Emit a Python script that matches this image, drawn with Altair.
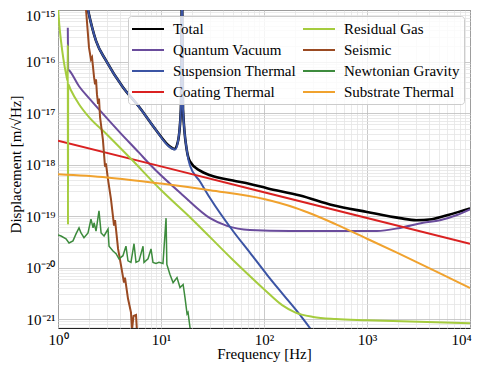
import altair as alt
import pandas as pd

# ---------------- data (frequency [Hz], displacement [m/sqrt(Hz)]) ----------------
total_f = [1.83, 1.955, 2.34, 2.92, 4.27, 6.12, 8.93, 11.95, 13.5, 14.6, 15.6, 16.0, 16.35, 17.8, 19.1,
           23.9, 30, 50, 73, 107, 224, 469, 1000, 2090, 3000, 4270, 6120, 10000]
total_d = [1.9e-15, 1.0e-15, 2.51e-16, 1.05e-16, 3.16e-17, 1.32e-17, 4.68e-18, 2.3e-18, 2.0e-18, 2.8e-18,
           1.2e-17, 3.2e-15, 1.2e-17, 1.9e-18, 1.15e-18, 7.6e-19, 6.2e-19, 4.9e-19, 4.2e-19, 3.47e-19,
           2.51e-19, 1.62e-19, 1.2e-19, 9.1e-20, 8.3e-20, 8.7e-20, 1.05e-19, 1.41e-19]

quantum_f = [1.245, 1.255, 1.28, 1.6, 2.04, 2.92, 4.0, 6.12, 7.82, 16.4, 29.9, 43.7, 73, 178, 547,
             1250, 2090, 3500, 5110, 7480, 10000]
quantum_d = [4.5e-16, 7.0e-17, 6.76e-17, 3.31e-17, 1.86e-17, 8.32e-18, 4.17e-18, 1.70e-18, 1.0e-18,
             2.51e-19, 9.12e-20, 6.46e-20, 5.37e-20, 5.13e-20, 5.13e-20, 5.13e-20, 5.89e-20, 7.41e-20,
             8.32e-20, 1.05e-19, 1.35e-19]

susp_f = [1.83, 1.955, 2.34, 2.92, 4.27, 6.12, 8.93, 11.95, 13.7, 14.6, 15.6, 16.0, 16.35, 17.9, 19.1,
          23.9, 29.9, 50, 73, 107, 153, 224, 285, 330]
susp_d = [1.9e-15, 1.0e-15, 2.51e-16, 1.05e-16, 3.16e-17, 1.32e-17, 4.68e-18, 2.24e-18, 1.95e-18, 2.75e-18,
          1.2e-17, 3.2e-15, 1.2e-17, 1.78e-18, 9.55e-19, 4.68e-19, 2.24e-19, 5.13e-20, 1.95e-20, 7.24e-21,
          3.02e-21, 1.2e-21, 6.3e-22, 4.0e-22]

coating_f = [1, 10, 100, 1000, 10000]
coating_d = [2.9e-18, 9.2e-19, 2.9e-19, 9.2e-20, 2.9e-20]

gas_f = [1.0, 1.03, 1.07, 1.13, 1.2, 1.24, 1.245, 1.25, 1.255, 1.32, 1.6, 2.0, 3.0, 5.0, 10, 20, 50,
         100, 150, 200, 300, 500, 1000, 10000]
gas_d = [1.1e-15, 5.1e-16, 2.5e-16, 1.1e-16, 5.6e-17, 4.2e-17, 2.1e-16, 6.8e-20, 3.6e-17, 2.9e-17,
         1.48e-17, 8.3e-18, 3.8e-18, 1.35e-18, 3.2e-19, 8.7e-20, 1.4e-20, 3.8e-21, 1.86e-21, 1.35e-21,
         1.1e-21, 1.0e-21, 9.5e-22, 8.3e-22]

seismic_f = [1.84, 2.0, 2.09, 2.14, 2.24, 2.29, 2.34, 2.39, 2.45, 2.5, 2.56, 2.73, 2.86, 2.92, 3.06,
             3.27, 3.5, 3.58, 3.83, 4.09, 4.37, 4.47, 4.78, 5.11, 5.23, 5.41, 5.72, 5.85]
seismic_d = [1.55e-15, 1.86e-16, 1.1e-16, 1.2e-16, 4.9e-17, 3.6e-17, 4.5e-17, 2.3e-17, 1.5e-17, 1.9e-17,
             8.3e-18, 3.0e-18, 9.1e-19, 1.05e-18, 5.1e-19, 2.1e-19, 6.5e-20, 8.3e-20, 2.3e-20, 1.1e-20,
             5.1e-21, 6.4e-21, 2.5e-21, 1.35e-21, 6.2e-22, 1.15e-21, 1.2e-21, 5.6e-22]

newton_f = [1.0, 1.07, 1.196, 1.279, 1.398, 1.496, 1.6, 1.673, 1.788, 1.956, 2.09, 2.19, 2.24, 2.34, 2.5,
            2.62, 2.80, 3.06, 3.13, 3.42, 3.66, 3.91, 4.27, 4.57, 4.78, 5.11, 5.47, 5.72, 6.12, 6.69,
            6.84, 7.48, 8.0, 8.36, 8.94, 9.56, 10.45, 11.2, 11.4, 12.2, 13.1, 14.3, 15.3, 16.4, 17.1,
            17.9, 18.3, 19.1, 19.6]
newton_d = [4.3e-20, 4.1e-20, 3.6e-20, 3.0e-20, 3.3e-20, 4.5e-20, 5.9e-20, 4.7e-20, 3.8e-20, 4.7e-20,
            8.7e-20, 5.9e-20, 7.4e-20, 5.1e-20, 1.26e-19, 4.7e-20, 4.1e-20, 5.6e-20, 2.6e-20, 2.1e-20,
            1.86e-20, 1.48e-20, 1.7e-20, 2.6e-20, 1.35e-20, 1.26e-20, 2.9e-20, 1.26e-20, 1.35e-20, 2.6e-20,
            1.26e-20, 1.48e-20, 2.3e-20, 1.26e-20, 1.2e-20, 1.26e-20, 1.2e-20, 9.1e-20, 1.15e-20, 7.4e-21,
            5.1e-21, 6.4e-21, 4.1e-21, 4.7e-21, 2.6e-21, 1.26e-21, 1.35e-21, 7.0e-22, 4.5e-22]

substrate_f = [1, 3, 10, 30, 100, 200, 300, 500, 1000, 2000, 5000, 10000]
substrate_d = [6.46e-19, 5.62e-19, 4.27e-19, 3.16e-19, 2.14e-19, 1.45e-19, 1.07e-19, 6.9e-20, 3.63e-20,
               1.9e-20, 7.9e-21, 4.0e-21]

# drawing order (first drawn = bottom); legend columns fill top-to-bottom in the same order
series = [
    ("Total", total_f, total_d, "#000000", 2.6, "monotone"),
    ("Quantum Vacuum", quantum_f, quantum_d, "#6A4C9C", 2.0, "monotone"),
    ("Suspension Thermal", susp_f, susp_d, "#3B54A4", 2.0, "monotone"),
    ("Coating Thermal", coating_f, coating_d, "#DA2121", 2.0, "linear"),
    ("Residual Gas", gas_f, gas_d, "#A5CC3E", 2.0, "monotone"),
    ("Seismic", seismic_f, seismic_d, "#9A4A22", 2.0, "linear"),
    ("Newtonian Gravity", newton_f, newton_d, "#3D8B3D", 1.5, "linear"),
    ("Substrate Thermal", substrate_f, substrate_d, "#F0A22E", 2.0, "monotone"),
]
names = [s[0] for s in series]
palette = [s[3] for s in series]

SUP = {"0": "⁰", "1": "¹", "2": "²", "3": "³", "4": "⁴", "5": "⁵", "6": "⁶",
       "7": "⁷", "8": "⁸", "9": "⁹", "-": "⁻"}


def label_expr(exps):
    parts = []
    for e in exps:
        v = 10.0 ** e
        s = "10" + "".join(SUP[c] for c in str(e))
        parts.append(f"(datum.value > {v * 0.999:.6g} && datum.value < {v * 1.001:.6g}) ? '{s}'")
    return " : ".join(parts) + " : ''"


x_vals = [m * 10.0 ** k for k in range(0, 4) for m in range(1, 10)] + [1e4]
y_lo = 6.71e-22
y_vals = [m * 10.0 ** k for k in range(-22, -15) for m in range(1, 10)] + [1e-15]
y_vals = [v for v in y_vals if v >= y_lo]

major_test = "abs(log(datum.value)/LN10 - round(log(datum.value)/LN10)) < 0.001"
grid_color = {"condition": {"test": major_test, "value": "#bdbdbd"}, "value": "#e4e4e4"}
FONT = "Liberation Serif"

x_enc = alt.X(
    "f:Q",
    scale=alt.Scale(type="log", domain=[1, 1e4], nice=False),
    axis=alt.Axis(
        values=x_vals, labelExpr=label_expr(range(0, 5)), labelOverlap=False, labelFlush=False,
        labelOffset={"condition": {"test": "datum.value > 5000", "value": -9}, "value": 0},
        labelFont=FONT, labelFontSize=15, labelColor="black", labelPadding=16,
        labelBaseline="alphabetic", ticks=False, tickSize=0, domain=False,
        grid=True, gridColor=grid_color, gridWidth=0.8,
        title="Frequency [Hz]", titleFont=FONT, titleFontSize=15, titleFontWeight="normal",
        titleColor="black", titleBaseline="alphabetic", titleY=30.5, titleX=206,
    ),
)
y_enc = alt.Y(
    "d:Q",
    scale=alt.Scale(type="log", domain=[y_lo, 1e-15], nice=False),
    axis=alt.Axis(
        values=y_vals, labelExpr=label_expr(range(-21, -14)), labelOverlap=False,
        labelFont=FONT, labelFontSize=15, labelColor="black", labelPadding=3,
        labelOffset={"condition": {"test": "datum.value > 5e-16", "value": 5}, "value": 0},
        ticks=False, tickSize=0, domain=False,
        grid=True, gridColor=grid_color, gridWidth=0.8,
        title="Displacement [m/√Hz]", titleFont=FONT, titleFontSize=15, titleFontWeight="normal",
        titleColor="black", titleX=-35, titleY=154,
    ),
)
color_enc = alt.Color(
    "series:N",
    scale=alt.Scale(domain=names, range=palette),
    legend=alt.Legend(
        title=None, orient="none", legendX=70, legendY=6, columns=2,
        symbolType="M-2,0L2,0", symbolSize=256, symbolStrokeWidth=2, symbolOffset=7,
        labelOffset=16, labelFont=FONT, labelFontSize=15, labelColor="black", labelLimit=300,
        fillColor="rgba(255,255,255,0.8)", strokeColor="#cccccc", cornerRadius=3,
        padding=4, rowPadding=4, columnPadding=3,
    ),
)

layers = []
for name, fs, ds, col, sw, interp in series:
    df = pd.DataFrame({"f": fs, "d": ds, "series": name})
    layers.append(
        alt.Chart(df)
        .mark_line(clip=True, strokeWidth=sw, interpolate=interp)
        .encode(x=x_enc, y=y_enc, color=color_enc, order=alt.Order("f:Q"))
    )

chart = (
    alt.layer(*layers)
    .properties(
        width=412, height=318,
        padding={"left": 50, "top": 2, "right": 2, "bottom": 34},
        autosize=alt.AutoSizeParams(type="none"),
    )
    .configure_view(stroke="#222222", strokeWidth=1)
)

chart.save("out.html", embed_options={"renderer": "svg", "actions": False})
